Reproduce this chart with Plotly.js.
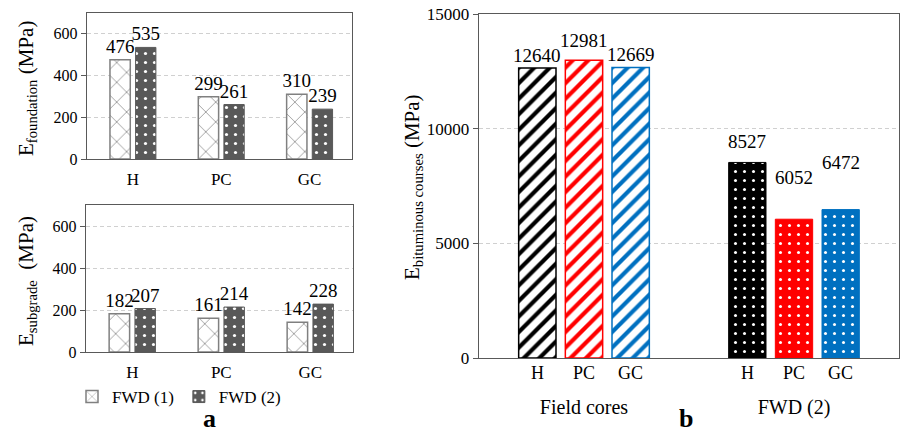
<!DOCTYPE html>
<html>
<head>
<meta charset="utf-8">
<script src="https://cdn.plot.ly/plotly-3.0.1.min.js"></script>
<style>html,body{margin:0;padding:0;background:#fff;}#chart{width:900px;height:433px;}</style>
</head>
<body>
<div id="chart"></div>
<script>
// ---- data ----
const mixCats = ["H", "PC", "GC"];
const foundationFWD1 = [476, 299, 310];
const foundationFWD2 = [535, 261, 239];
const subgradeFWD1 = [182, 161, 142];
const subgradeFWD2 = [207, 214, 228];
const groupCats = ["Field cores", "FWD (2)"];
const fieldCores = [12640, 12981, 12669];
const fwd2Bit = [8527, 6052, 6472];
const mixColors = ["#000000", "#FF0000", "#0070C0"];
const seriesNames = ["FWD (1)", "FWD (2)"];
// label lift above the bar top, px (style only)
const fieldCoresLabelLift = [13, 20, 12.5];
const fwd2LabelLift = [21, 42, 47];

const FONT = "Liberation Serif";
const AX = "#595959";

const fwd1Style = {
  color: "#ffffff",
  line: {color: "#808080", width: 1.5},
  pattern: {shape: "x", fgcolor: "#808080", bgcolor: "#ffffff", size: 14, solidity: 0.1, fillmode: "replace"}
};
const fwd2Style = {
  color: "#595959",
  line: {color: "#595959", width: 1},
  pattern: {shape: ".", fgcolor: "#ffffff", bgcolor: "#595959", size: 9, solidity: 0.1, fillmode: "replace"}
};

function leftTrace(y, name, style, xa, ya, offset, show) {
  return {
    type: "bar", x: mixCats, y: y, name: name, xaxis: xa, yaxis: ya,
    marker: style, width: 0.23, offset: offset,
    text: y.map(String), textposition: "outside", constraintext: "none", cliponaxis: false,
    textfont: {family: FONT, size: 19, color: "#000"},
    showlegend: show, legendgroup: name, hoverinfo: "x+y"
  };
}

const traces = [
  leftTrace(foundationFWD1, seriesNames[0], fwd1Style, "x", "y", -0.26, true),
  leftTrace(foundationFWD2, seriesNames[1], fwd2Style, "x", "y", 0.03, true),
  leftTrace(subgradeFWD1, seriesNames[0], fwd1Style, "x2", "y2", -0.26, false),
  leftTrace(subgradeFWD2, seriesNames[1], fwd2Style, "x2", "y2", 0.03, false)
];

// right panel: field cores (striped) and FWD (2) (dotted), one slot per mix
mixCats.forEach((m, i) => {
  const c = mixColors[i];
  traces.push({
    type: "bar", x: [groupCats[0]], y: [fieldCores[i]], name: m + " field cores",
    xaxis: "x3", yaxis: "y3", offsetgroup: m,
    marker: {color: "#ffffff", line: {color: c, width: 1.5},
             pattern: {shape: "/", fgcolor: c, bgcolor: "#ffffff", size: 11, solidity: 0.38, fillmode: "replace"}},
    showlegend: false
  });
  traces.push({
    type: "bar", x: [groupCats[1]], y: [fwd2Bit[i]], name: m + " FWD (2)",
    xaxis: "x3", yaxis: "y3", offsetgroup: m,
    marker: {color: c, line: {color: c, width: 1},
             pattern: {shape: ".", fgcolor: "#ffffff", bgcolor: c, size: 9, solidity: 0.09, fillmode: "replace"}},
    showlegend: false
  });
});

function yax(domain, range, dtick, fs) {
  return {
    domain: domain, range: range, dtick: dtick, tick0: 0, tickformat: "d",
    showline: true, linecolor: AX, linewidth: 1.3, mirror: true,
    ticks: "outside", ticklen: 5, tickcolor: AX,
    showgrid: true, gridcolor: "#d0d0d0", griddash: "4px,3px", gridwidth: 1,
    zeroline: false, automargin: false,
    tickfont: {family: FONT, size: fs, color: "#000"}
  };
}
function xax(domain, anchor, range) {
  const a = {
    domain: domain, anchor: anchor, type: "category",
    showline: true, linecolor: AX, linewidth: 1.3, mirror: true,
    ticks: "", showgrid: false, zeroline: false, automargin: false,
    ticklabelstandoff: 4,
    tickfont: {family: FONT, size: 17, color: "#000"}
  };
  if (range) a.range = range;
  return a;
}

const W = 900, H = 433;
const px = v => v / W;
const py = v => (H - v) / H;

const xa3 = xax([px(479), px(899)], "y3");
xa3.ticklabelstandoff = 31;
xa3.tickfont = {family: FONT, size: 20, color: "#000"};

const bargap = 1 / 3;
const slot = (1 - bargap) / 3;

const annotations = [];
const groupVals = [fieldCores, fwd2Bit];
const groupLift = [fieldCoresLabelLift, fwd2LabelLift];
groupCats.forEach((g, gi) => {
  mixCats.forEach((m, mi) => {
    const xpos = gi + (mi - 1) * slot;
    annotations.push({
      xref: "x3", yref: "y3 domain", x: xpos, y: 0,
      xanchor: "center", yanchor: "top", yshift: -3, text: m, showarrow: false,
      font: {family: FONT, size: 18, color: "#000"}
    });
    const v = groupVals[gi][mi];
    annotations.push({
      xref: "x3", yref: "y3", x: xpos, y: v,
      xanchor: "center", yanchor: "middle", yshift: groupLift[gi][mi], text: String(v), showarrow: false,
      font: {family: FONT, size: 19, color: "#000"}
    });
  });
});
const titleFont = {family: FONT, size: 21, color: "#000"};
annotations.push(
  {xref: "paper", yref: "paper", x: px(27), y: py(89), xanchor: "center", yanchor: "middle",
   text: "E<sub>foundation</sub> (MPa)", textangle: -90, showarrow: false, font: titleFont},
  {xref: "paper", yref: "paper", x: px(27), y: py(281), xanchor: "center", yanchor: "middle",
   text: "E<sub>subgrade</sub>  (MPa)", textangle: -90, showarrow: false, font: titleFont},
  {xref: "paper", yref: "paper", x: px(413), y: py(187), xanchor: "center", yanchor: "middle",
   text: "E<sub>bituminous courses</sub> (MPa)", textangle: -90, showarrow: false, font: titleFont},
  {xref: "paper", yref: "paper", x: px(209), y: py(418), xanchor: "center", yanchor: "middle",
   text: "<b>a</b>", showarrow: false, font: {family: FONT, size: 26, color: "#000"}},
  {xref: "paper", yref: "paper", x: px(686), y: py(418), xanchor: "center", yanchor: "middle",
   text: "<b>b</b>", showarrow: false, font: {family: FONT, size: 26, color: "#000"}}
);

const layout = {
  width: W, height: H,
  margin: {l: 0, r: 0, t: 0, b: 0, pad: 0},
  paper_bgcolor: "#fff", plot_bgcolor: "#fff",
  barmode: "group", bargap: bargap, bargroupgap: 0.2,
  font: {family: FONT, color: "#000"},
  xaxis: xax([px(87), px(352)], "y", [-0.52, 2.48]),
  yaxis: yax([py(159), py(13)], [0, 700], 200, 16),
  xaxis2: xax([px(86), px(353)], "y2", [-0.52, 2.48]),
  yaxis2: yax([py(352), py(205)], [0, 700], 200, 16),
  xaxis3: xa3,
  yaxis3: yax([py(358), py(14)], [0, 15000], 5000, 17),
  showlegend: true,
  legend: {orientation: "h", x: px(72), y: py(397), xanchor: "left", yanchor: "middle",
           font: {family: FONT, size: 17, color: "#000"}, bgcolor: "rgba(0,0,0,0)", itemwidth: 30},
  annotations: annotations
};
layout.yaxis.anchor = "x";
layout.yaxis2.anchor = "x2";
layout.yaxis3.anchor = "x3";

Plotly.newPlot("chart", traces, layout, {staticPlot: true, displayModeBar: false});
</script>
</body>
</html>
